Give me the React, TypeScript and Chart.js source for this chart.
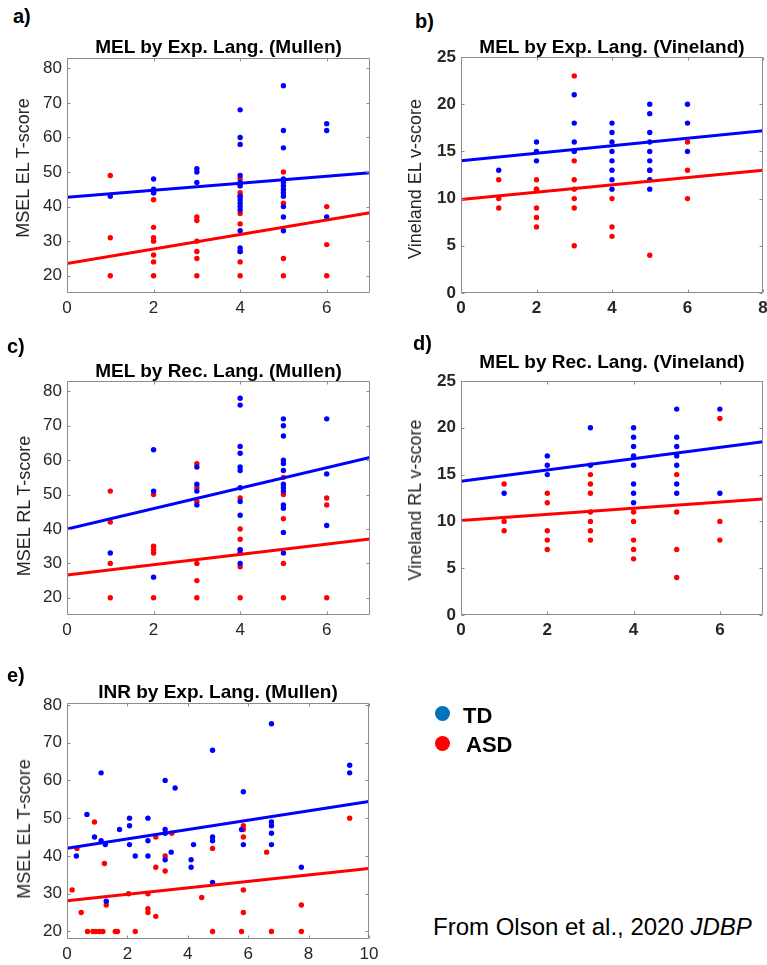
import React, { useEffect, useRef } from "react";
import { Chart, registerables } from "chart.js";

Chart.register(...registerables);

const FONT = '"Liberation Sans", Arial, Helvetica, sans-serif';
const TD_COLOR = "#0000ff";
const ASD_COLOR = "#ff0000";
const LEGEND_TD = "#0072bd";
const AXIS_COLOR = "#8c8c8c";
const TICK_TEXT = "#262626";

// ---------- DATA ----------
// x levels (language level) shared by panels a–d
const langLevels = [1, 2, 3, 4, 5, 6];

// a) MEL by Exp. Lang. (Mullen) — values grouped by language level
const aTD = [
  [43],
  [48, 45, 44, 44],
  [51, 50, 47],
  [68, 60, 58, 49, 47, 46, 43, 42, 41, 40, 39, 33, 28, 27],
  [75, 62, 57, 48, 47, 46, 45, 44, 43, 40, 37, 33],
  [64, 62, 37],
];
const aASD = [
  [49, 31, 20],
  [42, 34, 31, 30, 26, 24, 20],
  [37, 36, 30, 27, 25, 20],
  [48, 46, 44, 43, 38, 35, 27, 24, 20],
  [50, 41, 25, 20],
  [40, 29, 20],
];
const aFitX = [0, 7];
const aFitTD = [42.7, 49.8];
const aFitASD = [23.5, 38.2];
const aXTicks = [0, 2, 4, 6];
const aYTicks = [20, 30, 40, 50, 60, 70, 80];

// b) MEL by Exp. Lang. (Vineland)
const bTD = [
  [13],
  [16, 15, 14],
  [21, 18, 16, 15],
  [18, 17, 16, 15, 14, 13, 12, 11],
  [20, 19, 17, 16, 15, 14, 13, 12, 11],
  [20, 18, 15],
];
const bASD = [
  [12, 10, 9],
  [12, 11, 11, 9, 8, 7],
  [23, 14, 12, 11, 10, 9, 5],
  [10, 7, 6],
  [13, 4],
  [16, 13, 10],
];
const bFitX = [0, 8];
const bFitTD = [14.0, 17.2];
const bFitASD = [9.9, 13.0];
const bXTicks = [0, 2, 4, 6, 8];
const bYTicks = [0, 5, 10, 15, 20, 25];

// c) MEL by Rec. Lang. (Mullen)
const cTD = [
  [33],
  [63, 51, 26],
  [58, 53, 51, 47],
  [78, 76, 64, 62, 58, 57, 52, 48, 44, 34, 33, 30],
  [72, 70, 67, 60, 59, 57, 53, 52, 51, 47, 46, 39, 33],
  [72, 56, 41],
];
const cASD = [
  [51, 42, 30, 20],
  [50, 35, 34, 33, 20],
  [59, 52, 48, 30, 25, 20],
  [49, 40, 37, 34, 29, 20],
  [55, 50, 43, 30, 20],
  [49, 47, 20],
];
const cFitX = [0, 7];
const cFitTD = [40.0, 60.8];
const cFitASD = [26.6, 37.1];
const cXTicks = [0, 2, 4, 6];
const cYTicks = [20, 30, 40, 50, 60, 70, 80];

// d) MEL by Rec. Lang. (Vineland)
const dTD = [
  [13],
  [17, 16, 15],
  [20, 16],
  [20, 19, 18, 17, 16, 14, 13, 12],
  [22, 19, 18, 17, 16, 14, 13],
  [22, 13],
];
const dASD = [
  [14, 10, 9],
  [13, 12, 9, 8, 7],
  [15, 14, 13, 11, 10, 9, 8],
  [11, 10, 8, 7, 6],
  [15, 11, 7, 4],
  [21, 10, 8],
];
const dFitX = [0, 7];
const dFitTD = [14.3, 18.5];
const dFitASD = [10.1, 12.4];
const dXTicks = [0, 2, 4, 6];
const dYTicks = [0, 5, 10, 15, 20, 25];

// e) INR by Exp. Lang. (Mullen)
const eTDx = [0.31, 0.66, 0.91, 1.13, 1.13, 1.27, 1.3, 1.74, 2.07, 2.07, 2.07, 2.26, 2.68, 2.68, 2.68, 3.25, 3.25, 3.25, 3.25, 3.58, 3.45, 4.11, 4.11, 4.19, 4.82, 4.82, 4.82, 4.82, 5.78, 5.84, 5.84, 6.77, 6.77, 6.77, 6.77, 6.77, 7.76, 9.36, 9.36];
const eTDy = [40, 51, 45, 62, 44, 43, 28, 47, 50, 48, 43, 40, 50, 44, 40, 60, 47, 46, 39, 58, 41, 39, 37, 43, 68, 45, 44, 33, 47, 57, 43, 75, 49, 48, 46, 43, 37, 64, 62];
const eASDx = [0.17, 0.33, 0.47, 0.68, 0.86, 0.95, 0.91, 1.07, 1.19, 1.24, 1.3, 1.6, 1.67, 2.04, 2.26, 2.68, 2.68, 2.68, 2.94, 2.94, 2.94, 3.25, 3.25, 3.47, 4.46, 4.82, 4.82, 5.84, 5.84, 5.84, 5.84, 5.84, 5.78, 6.61, 6.77, 7.76, 7.76, 9.36];
const eASDy = [31, 42, 25, 20, 20, 20, 49, 20, 20, 38, 27, 20, 20, 30, 20, 30, 26, 25, 45, 37, 24, 40, 36, 46, 29, 42, 20, 48, 47, 45, 31, 25, 20, 41, 20, 27, 20, 50];
const eFitX = [0, 10];
const eFitTD = [42.0, 54.4];
const eFitASD = [28.1, 36.7];
const eXTicks = [0, 2, 4, 6, 8, 10];
const eYTicks = [20, 30, 40, 50, 60, 70, 80];

// ---------- helpers ----------
type Pt = { x: number; y: number };
const grouped = (levels: number[], groups: number[][]): Pt[] =>
  groups.flatMap((vals, i) => vals.map((v) => ({ x: levels[i], y: v })));
const paired = (xs: number[], ys: number[]): Pt[] => xs.map((x, i) => ({ x, y: ys[i] }));

type Panel = {
  letter: string;
  title: string;
  yLabel: string;
  boldTicks: boolean;
  td: Pt[];
  asd: Pt[];
  fitTD: Pt[];
  fitASD: Pt[];
  xMin: number;
  xMax: number;
  yMin: number;
  yMax: number;
  xTicks: number[];
  yTicks: number[];
  plot: { l: number; t: number; r: number; b: number };
  canvasLeft: number;
  letterPos: { x: number; y: number };
  titleTop: number;
  yLabelCenter: { x: number; y: number };
};

const panels: Panel[] = [
  {
    letter: "a)", title: "MEL by Exp. Lang. (Mullen)", yLabel: "MSEL EL T-score", boldTicks: false,
    td: grouped(langLevels, aTD), asd: grouped(langLevels, aASD),
    fitTD: paired(aFitX, aFitTD), fitASD: paired(aFitX, aFitASD),
    xMin: 0, xMax: 7, yMin: 15, yMax: 83, xTicks: aXTicks, yTicks: aYTicks,
    plot: { l: 67, t: 58, r: 370, b: 293 }, canvasLeft: 0,
    letterPos: { x: 13, y: 6 }, titleTop: 37, yLabelCenter: { x: 22.5, y: 168 },
  },
  {
    letter: "b)", title: "MEL by Exp. Lang. (Vineland)", yLabel: "Vineland EL v-score", boldTicks: true,
    td: grouped(langLevels, bTD), asd: grouped(langLevels, bASD),
    fitTD: paired(bFitX, bFitTD), fitASD: paired(bFitX, bFitASD),
    xMin: 0, xMax: 8, yMin: 0, yMax: 25, xTicks: bXTicks, yTicks: bYTicks,
    plot: { l: 461, t: 57, r: 763, b: 293 }, canvasLeft: 380,
    letterPos: { x: 415, y: 11 }, titleTop: 37, yLabelCenter: { x: 415, y: 179 },
  },
  {
    letter: "c)", title: "MEL by Rec. Lang. (Mullen)", yLabel: "MSEL RL T-score", boldTicks: false,
    td: grouped(langLevels, cTD), asd: grouped(langLevels, cASD),
    fitTD: paired(cFitX, cFitTD), fitASD: paired(cFitX, cFitASD),
    xMin: 0, xMax: 7, yMin: 15, yMax: 83, xTicks: cXTicks, yTicks: cYTicks,
    plot: { l: 67, t: 381, r: 370, b: 615 }, canvasLeft: 0,
    letterPos: { x: 7, y: 336 }, titleTop: 361, yLabelCenter: { x: 24, y: 506 },
  },
  {
    letter: "d)", title: "MEL by Rec. Lang. (Vineland)", yLabel: "Vineland RL v-score", boldTicks: true,
    td: grouped(langLevels, dTD), asd: grouped(langLevels, dASD),
    fitTD: paired(dFitX, dFitTD), fitASD: paired(dFitX, dFitASD),
    xMin: 0, xMax: 7, yMin: 0, yMax: 25, xTicks: dXTicks, yTicks: dYTicks,
    plot: { l: 461, t: 381, r: 763, b: 615 }, canvasLeft: 380,
    letterPos: { x: 413, y: 333 }, titleTop: 352, yLabelCenter: { x: 415, y: 500 },
  },
  {
    letter: "e)", title: "INR by Exp. Lang. (Mullen)", yLabel: "MSEL EL T-score", boldTicks: false,
    td: paired(eTDx, eTDy), asd: paired(eASDx, eASDy),
    fitTD: paired(eFitX, eFitTD), fitASD: paired(eFitX, eFitASD),
    xMin: 0, xMax: 10, yMin: 18, yMax: 80.5, xTicks: eXTicks, yTicks: eYTicks,
    plot: { l: 67, t: 703, r: 369, b: 939 }, canvasLeft: 0,
    letterPos: { x: 7, y: 665 }, titleTop: 682, yLabelCenter: { x: 24, y: 829 },
  },
];

const PAD_TOP = 16;
const PAD_RIGHT = 16;
const PAD_BOTTOM = 30;

const axesBoxPlugin = {
  id: "axesBox",
  afterDatasetsDraw(chart: any) {
    const { ctx, chartArea, scales } = chart;
    const { left, top, right, bottom } = chartArea;
    const tl = 3;
    ctx.save();
    ctx.strokeStyle = AXIS_COLOR;
    ctx.lineWidth = 1;
    ctx.beginPath();
    const L = Math.round(left) + 0.5;
    const R = Math.round(right) - 0.5;
    const T = Math.round(top) + 0.5;
    const B = Math.round(bottom) - 0.5;
    ctx.rect(L, T, R - L, B - T);
    for (const t of scales.x.ticks) {
      const px = Math.round(scales.x.getPixelForValue(t.value)) + 0.5;
      ctx.moveTo(px, B);
      ctx.lineTo(px, B - tl);
      ctx.moveTo(px, T);
      ctx.lineTo(px, T + tl);
    }
    for (const t of scales.y.ticks) {
      const py = Math.round(scales.y.getPixelForValue(t.value)) + 0.5;
      ctx.moveTo(L, py);
      ctx.lineTo(L + tl, py);
      ctx.moveTo(R, py);
      ctx.lineTo(R - tl, py);
    }
    ctx.stroke();
    ctx.restore();
  },
};

function PanelChart({ p }: { p: Panel }) {
  const ref = useRef<HTMLCanvasElement | null>(null);
  const cTop = p.plot.t - PAD_TOP;
  const cW = p.plot.r + PAD_RIGHT - p.canvasLeft;
  const cH = p.plot.b + PAD_BOTTOM - cTop;

  useEffect(() => {
    if (!ref.current) return;
    const tickFont = { family: FONT, size: 17, weight: p.boldTicks ? "bold" : "normal" } as any;
    const chart = new Chart(ref.current, {
      type: "scatter",
      data: {
        datasets: [
          {
            data: p.fitTD, showLine: true, borderColor: TD_COLOR, borderWidth: 3,
            pointRadius: 0, order: 0,
          },
          {
            data: p.fitASD, showLine: true, borderColor: ASD_COLOR, borderWidth: 3,
            pointRadius: 0, order: 0,
          },
          {
            data: p.asd, backgroundColor: ASD_COLOR, borderWidth: 0,
            pointRadius: 2.7, order: 2,
          },
          {
            data: p.td, backgroundColor: TD_COLOR, borderWidth: 0,
            pointRadius: 2.7, order: 1,
          },
        ] as any,
      },
      options: {
        responsive: false,
        animation: false,
        events: [],
        layout: { padding: { top: PAD_TOP, right: PAD_RIGHT, left: 0, bottom: 0 } },
        plugins: { legend: { display: false }, tooltip: { enabled: false }, title: { display: false } },
        scales: {
          x: {
            type: "linear", min: p.xMin, max: p.xMax,
            afterBuildTicks: (s: any) => { s.ticks = p.xTicks.map((v) => ({ value: v })); },
            afterFit: (s: any) => { s.height = PAD_BOTTOM; },
            grid: { display: false, drawTicks: false },
            border: { display: false },
            ticks: { padding: 5, font: tickFont, color: TICK_TEXT, maxRotation: 0 },
          },
          y: {
            type: "linear", min: p.yMin, max: p.yMax,
            afterBuildTicks: (s: any) => { s.ticks = p.yTicks.map((v) => ({ value: v })); },
            afterFit: (s: any) => { s.width = p.plot.l - p.canvasLeft; },
            grid: { display: false, drawTicks: false },
            border: { display: false },
            ticks: { padding: 5, font: tickFont, color: TICK_TEXT },
          },
        },
      } as any,
      plugins: [axesBoxPlugin],
    });
    return () => chart.destroy();
  }, [p]);

  return (
    <>
      <canvas
        ref={ref}
        width={cW}
        height={cH}
        style={{ position: "absolute", left: p.canvasLeft, top: cTop, width: cW, height: cH }}
      />
      <div
        style={{
          position: "absolute", left: p.letterPos.x, top: p.letterPos.y,
          fontSize: 20, fontWeight: "bold", lineHeight: 1, color: "#000", whiteSpace: "nowrap",
        }}
      >
        {p.letter}
      </div>
      <div
        style={{
          position: "absolute", left: p.plot.l - 20, width: p.plot.r - p.plot.l + 40, top: p.titleTop,
          textAlign: "center", fontSize: 19, fontWeight: "bold", lineHeight: 1, color: "#000",
          whiteSpace: "nowrap",
        }}
      >
        {p.title}
      </div>
      <div
        style={{
          position: "absolute", left: p.yLabelCenter.x, top: p.yLabelCenter.y,
          transform: "translate(-50%, -50%) rotate(-90deg)", fontSize: 18, lineHeight: 1,
          color: TICK_TEXT, whiteSpace: "nowrap",
        }}
      >
        {p.yLabel}
      </div>
    </>
  );
}

export default function App() {
  return (
    <div
      style={{
        position: "absolute", left: 0, top: 0, width: 767, height: 965, overflow: "hidden",
        background: "#fff", fontFamily: FONT,
      }}
    >
      {panels.map((p) => (
        <PanelChart key={p.letter} p={p} />
      ))}
      {/* legend */}
      <div style={{ position: "absolute", left: 434.5, top: 706, width: 15, height: 15, borderRadius: "50%", background: LEGEND_TD }} />
      <div style={{ position: "absolute", left: 434.5, top: 735.5, width: 15, height: 15, borderRadius: "50%", background: ASD_COLOR }} />
      <div style={{ position: "absolute", left: 463, top: 705, fontSize: 22, fontWeight: "bold", lineHeight: 1, color: "#000" }}>TD</div>
      <div style={{ position: "absolute", left: 466, top: 734, fontSize: 22, fontWeight: "bold", lineHeight: 1, color: "#000" }}>ASD</div>
      <div style={{ position: "absolute", left: 433, top: 914.5, fontSize: 24, lineHeight: 1, color: "#000", whiteSpace: "nowrap" }}>
        From Olson et al., 2020 <i>JDBP</i>
      </div>
    </div>
  );
}
